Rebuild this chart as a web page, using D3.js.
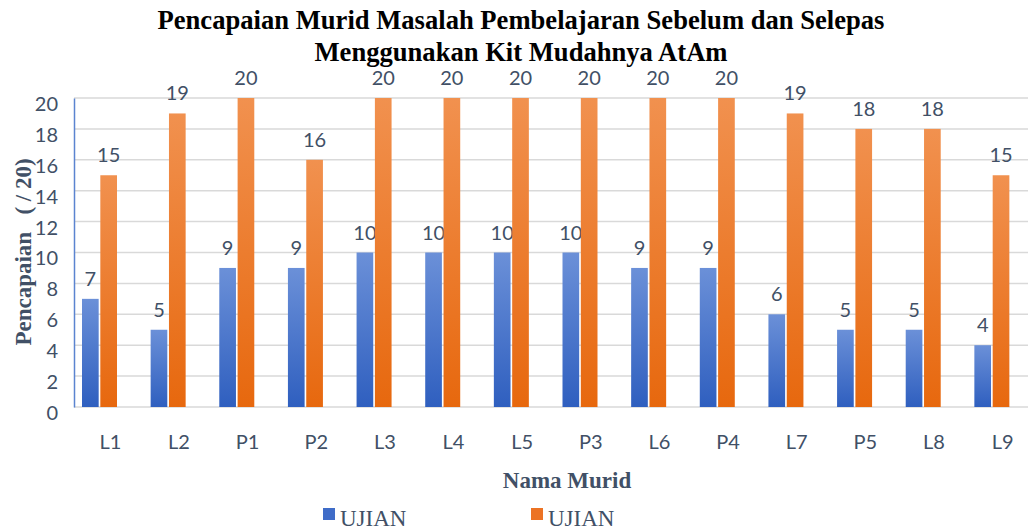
<!DOCTYPE html>
<html lang="ms">
<head>
    <meta charset="UTF-8">
    <title>Pencapaian Murid</title>
    <script src="https://d3js.org/d3.v7.min.js"></script>
    <style>
        body { margin: 0; background: #fff; }
        svg { display: block; }
    </style>
</head>
<body>
    <svg id="chart" width="1028" height="530"></svg>
    <script>
        const murid = ["L1", "L2", "P1", "P2", "L3", "L4", "L5", "P3", "L6", "P4", "L7", "P5", "L8", "L9"];
        const ujianSebelum = [7, 5, 9, 9, 10, 10, 10, 10, 9, 9, 6, 5, 5, 4];
        const ujianSelepas = [15, 19, 20, 16, 20, 20, 20, 20, 20, 20, 19, 18, 18, 15];
        const seriesNames = ["UJIAN", "UJIAN"];
        const yTicks = [0, 2, 4, 6, 8, 10, 12, 14, 16, 18, 20];

        const textColor = "#415066";
        const svg = d3.select("#chart");

        const x = d3.scaleBand().domain(murid).range([74, 1035]);
        const xs = d3.scaleBand().domain([0, 1]).range([8, 43]).paddingInner(0.09);
        const y = d3.scaleLinear().domain([0, 20]).range([407, 98]);

        const defs = svg.append("defs");
        const grads = [["gBlue", "#6b90d8", "#2f5fbf"], ["gOrange", "#f1914f", "#e7680e"]];
        grads.forEach(([id, top, bottom]) => {
            const g = defs.append("linearGradient").attr("id", id)
                .attr("x1", 0).attr("y1", 0).attr("x2", 0).attr("y2", 1);
            g.append("stop").attr("offset", "0%").attr("stop-color", top);
            g.append("stop").attr("offset", "100%").attr("stop-color", bottom);
        });
        const fills = ["url(#gBlue)", "url(#gOrange)"];
        const legendFills = ["#3f6cc8", "#ec7324"];

        // title
        svg.append("text")
            .attr("x", 521).attr("y", 0)
            .attr("text-anchor", "middle")
            .style("font-family", "'Liberation Serif', 'Times New Roman', serif")
            .style("font-weight", "bold")
            .style("font-size", "26.6px")
            .style("fill", "#000")
            .selectAll("tspan")
            .data(["Pencapaian Murid Masalah Pembelajaran Sebelum dan Selepas", "Menggunakan Kit Mudahnya AtAm"])
            .join("tspan")
            .attr("x", 521)
            .attr("y", (d, i) => 29 + i * 31.5)
            .text(d => d);

        // grid
        svg.append("g")
            .selectAll("line")
            .data(yTicks)
            .join("line")
            .attr("x1", 74).attr("x2", 1028)
            .attr("y1", d => y(d)).attr("y2", d => y(d))
            .attr("stroke", "#d9d9d9")
            .attr("stroke-width", 1.5);

        // y axis
        const yAxis = svg.append("g")
            .attr("transform", "translate(74,0)")
            .call(d3.axisLeft(y).tickValues(yTicks).tickSize(0).tickPadding(16));
        yAxis.select(".domain").attr("stroke", "#5b84d0").attr("stroke-width", 1.5);
        yAxis.selectAll("text")
            .attr("dy", "0.62em")
            .style("font-family", "Lato, 'Open Sans', sans-serif")
            .style("font-size", "20px")
            .style("fill", textColor);

        // x axis labels
        const xAxis = svg.append("g")
            .attr("transform", "translate(0,407)")
            .call(d3.axisBottom(x).tickSize(0).tickPadding(28));
        xAxis.select(".domain").remove();
        xAxis.selectAll("text")
            .attr("dx", "2px")
            .style("font-family", "Lato, 'Open Sans', sans-serif")
            .style("font-size", "20px")
            .style("fill", textColor);

        // bars
        const seriesData = [ujianSebelum, ujianSelepas];
        seriesData.forEach((vals, si) => {
            const g = svg.append("g");
            g.selectAll("rect")
                .data(vals)
                .join("rect")
                .attr("x", (d, i) => x(murid[i]) + xs(si))
                .attr("width", xs.bandwidth())
                .attr("y", d => y(d))
                .attr("height", d => y(0) - y(d))
                .attr("fill", fills[si]);
            g.selectAll("text")
                .data(vals)
                .join("text")
                .attr("x", (d, i) => x(murid[i]) + xs(si) + xs.bandwidth() / 2)
                .attr("y", d => y(d) - 13)
                .attr("text-anchor", "middle")
                .style("font-family", "Lato, 'Open Sans', sans-serif")
                .style("font-size", "20px")
                .style("fill", textColor)
                .text(d => d);
        });

        // axis titles
        svg.append("text")
            .attr("transform", "translate(31,252) rotate(-90)")
            .attr("text-anchor", "middle")
            .style("font-family", "'Liberation Serif', 'Times New Roman', serif")
            .style("font-weight", "bold")
            .style("font-size", "23px")
            .style("fill", textColor)
            .style("white-space", "pre")
            .text("Pencapaian   ( / 20)");

        svg.append("text")
            .attr("x", 567).attr("y", 488)
            .attr("text-anchor", "middle")
            .style("font-family", "'Liberation Serif', 'Times New Roman', serif")
            .style("font-weight", "bold")
            .style("font-size", "23px")
            .style("fill", textColor)
            .text("Nama Murid");

        // legend
        const legendX = [323, 531];
        const legend = svg.append("g");
        seriesNames.forEach((name, i) => {
            legend.append("rect")
                .attr("x", legendX[i]).attr("y", 508)
                .attr("width", 12).attr("height", 12)
                .attr("fill", legendFills[i]);
            legend.append("text")
                .attr("x", legendX[i] + 17).attr("y", 526)
                .style("font-family", "'Liberation Serif', 'Times New Roman', serif")
                .style("font-size", "23px")
                .style("fill", textColor)
                .text(name);
        });
    </script>
</body>
</html>
